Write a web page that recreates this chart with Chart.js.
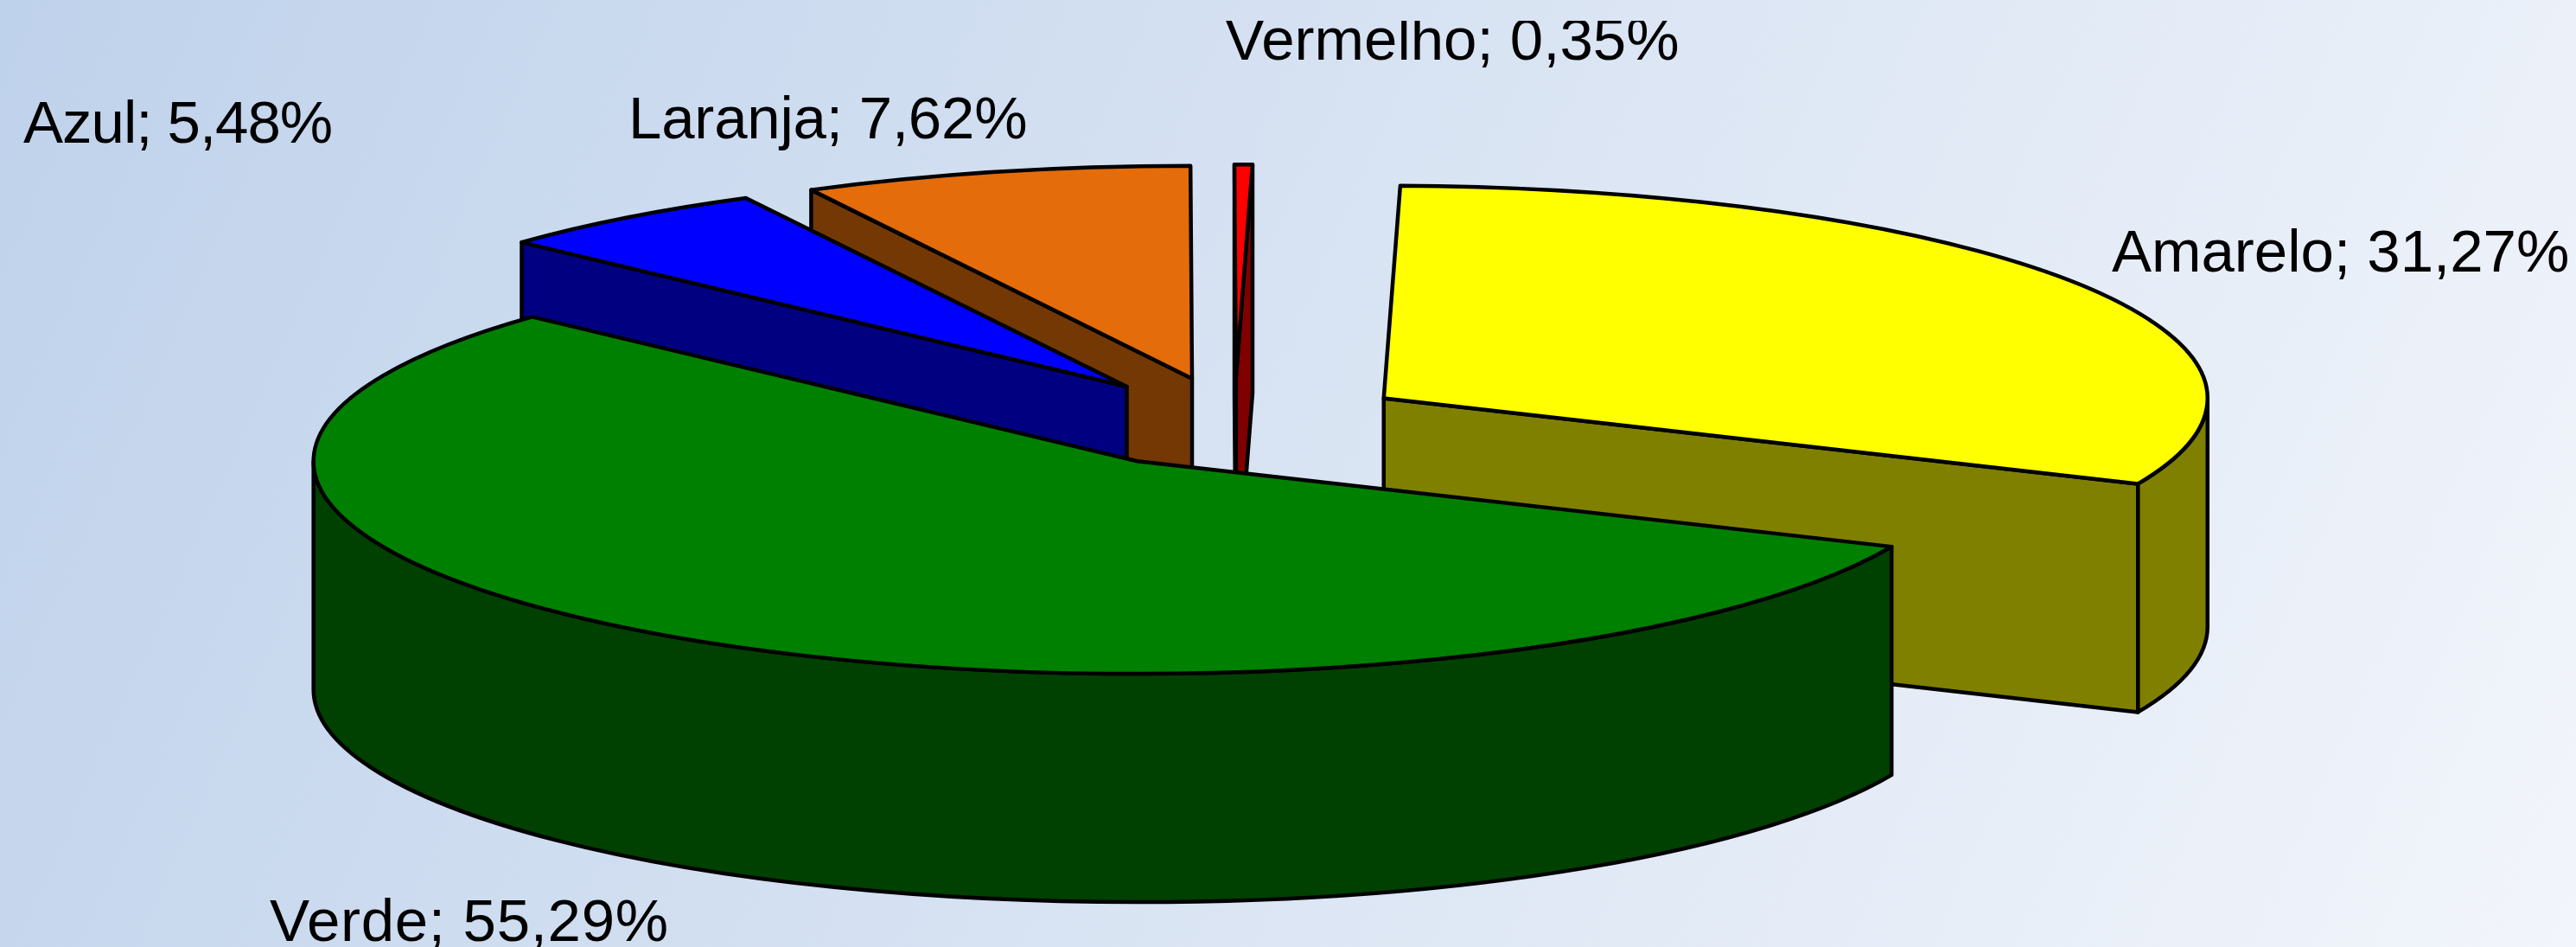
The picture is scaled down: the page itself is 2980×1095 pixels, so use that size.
<!DOCTYPE html>
<html lang="pt">
<head>
<meta charset="utf-8">
<title>Cores</title>
<script src="https://cdn.jsdelivr.net/npm/chart.js@4"></script>
<style>
  html, body { margin: 0; padding: 0; width: 2980px; height: 1095px; overflow: hidden; }
  body { background: linear-gradient(114deg, #bfd2eb 0%, #f2f5fb 100%); }
  canvas { display: block; }
</style>
</head>
<body>
<canvas id="chart-cores" width="2980" height="1095"></canvas>
<script>
const categorias = ["Amarelo", "Verde", "Azul", "Laranja", "Vermelho"];
const valores = [31.27, 55.29, 5.48, 7.62, 0.35];
const coresTopo = ["#ffff00", "#008000", "#0000ff", "#e46c0a", "#ff0000"];
const coresLado = ["#808000", "#004000", "#000080", "#743805", "#800000"];
const posRotulos = [[2443, 314], [312, 1088], [27, 165], [727, 160], [1417, 69]];
const espacoLetras = [0, 0.7, -1, -0.2, 0];

// pie seen from above: flattened, pulled apart and extruded
const TILT = 0.258;
const EXPLODE = 205;
const DEPTH = 264;
const LINE = 4.5;

function wallPaths(arc, ax, ay) {
  const r = arc.outerRadius;
  const s = arc.startAngle;
  const e = arc.endAngle;
  const walls = [];
  const radial = (a) => {
    const px = ax + Math.cos(a) * r;
    const py = ay + Math.sin(a) * r * TILT;
    return (c) => {
      c.moveTo(ax, ay);
      c.lineTo(px, py);
      c.lineTo(px, py + DEPTH);
      c.lineTo(ax, ay + DEPTH);
      c.closePath();
    };
  };
  if (Math.cos(s) < 0) walls.push(radial(s));
  if (Math.cos(e) > 0) walls.push(radial(e));
  // outer rim, only the part facing the viewer
  const from = Math.max(s, 0);
  const to = Math.min(e, Math.PI);
  if (to > from) {
    walls.push((c) => {
      c.ellipse(ax, ay, r, r * TILT, 0, from, to);
      c.ellipse(ax, ay + DEPTH, r, r * TILT, 0, to, from, true);
      c.closePath();
    });
  }
  return walls;
}

const pie3d = {
  id: "pie3d",
  beforeDatasetsDraw(chart) {
    const ctx = chart.ctx;
    const arcs = chart.getDatasetMeta(0).data.map((arc, i) => {
      const mid = (arc.startAngle + arc.endAngle) / 2;
      return { arc, i, mid };
    });
    // back to front
    arcs.sort((a, b) => Math.sin(a.mid) - Math.sin(b.mid));

    arcs.forEach(({ arc, i, mid }) => {
      const dx = Math.cos(mid) * EXPLODE;
      const dy = Math.sin(mid) * EXPLODE * TILT;
      const ax = arc.x + dx;
      const ay = arc.y + dy;

      ctx.save();
      ctx.lineWidth = LINE;
      ctx.lineJoin = "round";
      ctx.strokeStyle = "#000";
      ctx.fillStyle = coresLado[i];
      wallPaths(arc, ax, ay).forEach((path) => {
        ctx.beginPath();
        path(ctx);
        ctx.fill();
        ctx.stroke();
      });
      ctx.restore();

      // top face: the library's own arc, squashed
      ctx.save();
      ctx.translate(dx, arc.y + dy);
      ctx.scale(1, TILT);
      ctx.translate(0, -arc.y);
      arc.draw(ctx);
      ctx.restore();

      ctx.save();
      ctx.lineWidth = LINE;
      ctx.lineJoin = "round";
      ctx.strokeStyle = "#000";
      ctx.beginPath();
      ctx.moveTo(ax, ay);
      ctx.ellipse(ax, ay, arc.outerRadius, arc.outerRadius * TILT, 0, arc.startAngle, arc.endAngle);
      ctx.closePath();
      ctx.stroke();
      ctx.restore();
    });
    return false;
  },
  afterDraw(chart) {
    const ctx = chart.ctx;
    ctx.save();
    // the top label is cut off in the original
    ctx.beginPath();
    ctx.rect(0, 24, chart.width, chart.height - 24);
    ctx.clip();
    ctx.font = "69px 'Liberation Sans'";
    ctx.fillStyle = "#000";
    ctx.textBaseline = "alphabetic";
    categorias.forEach((nome, i) => {
      const texto = nome + "; " + valores[i].toFixed(2).replace(".", ",") + "%";
      ctx.letterSpacing = espacoLetras[i] + "px";
      ctx.fillText(texto, posRotulos[i][0], posRotulos[i][1]);
    });
    ctx.restore();
  }
};

new Chart(document.getElementById("chart-cores"), {
  type: "pie",
  data: {
    labels: categorias,
    datasets: [{
      data: valores,
      backgroundColor: coresTopo,
      borderWidth: 0,
      radius: 953
    }]
  },
  options: {
    responsive: false,
    animation: false,
    events: [],
    rotation: 1.15,
    layout: { padding: { left: 0, top: 0, right: 124, bottom: 117 } },
    plugins: { legend: { display: false }, tooltip: { enabled: false } }
  },
  plugins: [pie3d]
});
</script>
</body>
</html>
